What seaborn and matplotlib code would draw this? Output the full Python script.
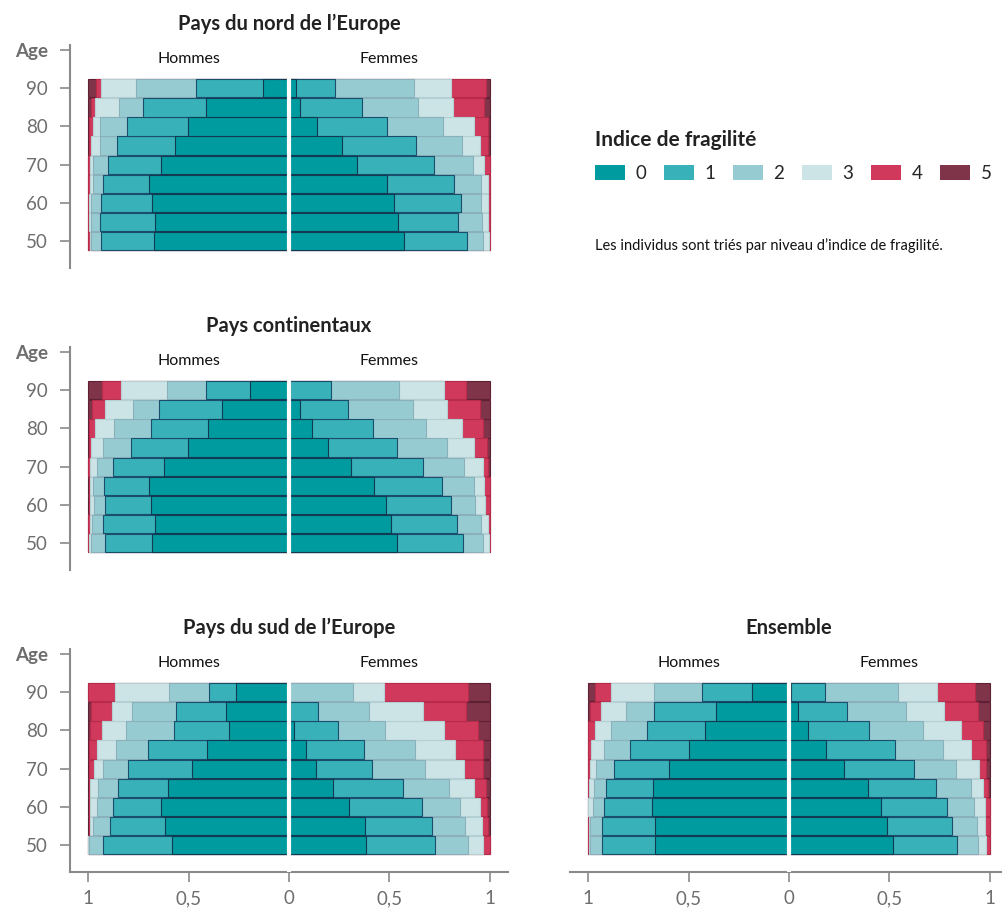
import numpy as np
import pandas as pd
import matplotlib
matplotlib.use("Agg")
import matplotlib.pyplot as plt
from matplotlib.patches import Patch
import seaborn as sns

AGES = [50, 55, 60, 65, 70, 75, 80, 85, 90]
LEVELS = ["0", "1", "2", "3", "4", "5"]

# share (%) of each frailty level 0..5, one row per age group, 50 -> 90
NORD_HOMMES = [
    [67.0, 26.5, 5.0, 0.7, 0.6, 0.2],
    [66.8, 27.2, 4.7, 0.6, 0.5, 0.2],
    [68.2, 25.3, 5.0, 1.0, 0.3, 0.2],
    [69.5, 23.0, 5.0, 1.7, 0.6, 0.2],
    [63.8, 26.2, 7.5, 1.7, 0.6, 0.2],
    [56.6, 28.8, 8.6, 4.7, 0.8, 0.5],
    [50.2, 30.4, 13.4, 3.7, 1.6, 0.7],
    [41.1, 31.7, 11.6, 12.3, 2.0, 1.3],
    [12.9, 33.5, 29.9, 17.1, 2.8, 3.8],
]
NORD_FEMMES = [
    [57.0, 31.4, 8.1, 2.8, 0.6, 0.1],
    [54.1, 29.8, 12.1, 3.0, 0.9, 0.1],
    [52.4, 33.0, 10.3, 3.1, 1.1, 0.1],
    [48.9, 33.2, 13.4, 3.5, 0.9, 0.1],
    [33.7, 38.6, 19.1, 5.9, 2.5, 0.2],
    [26.2, 37.0, 22.9, 9.1, 3.6, 1.2],
    [13.8, 35.1, 27.5, 15.5, 6.9, 1.2],
    [5.3, 31.2, 27.7, 17.4, 15.3, 3.1],
    [3.3, 19.4, 39.7, 18.2, 17.6, 1.8],
]
CONT_HOMMES = [
    [68.3, 23.2, 7.2, 0.6, 0.5, 0.2],
    [66.8, 25.6, 5.6, 1.0, 0.8, 0.2],
    [68.7, 22.8, 5.5, 2.0, 0.7, 0.3],
    [69.7, 22.2, 5.6, 1.5, 0.7, 0.3],
    [62.0, 25.6, 8.1, 3.3, 0.8, 0.2],
    [50.2, 28.4, 13.8, 5.9, 1.4, 0.3],
    [40.3, 28.4, 18.4, 9.6, 3.0, 0.3],
    [33.2, 31.5, 12.9, 14.1, 6.5, 1.8],
    [19.2, 22.3, 19.4, 22.8, 9.5, 6.8],
]
CONT_FEMMES = [
    [53.6, 32.8, 10.1, 2.8, 0.6, 0.1],
    [50.6, 32.8, 12.1, 3.3, 1.0, 0.2],
    [48.1, 32.5, 12.1, 5.1, 2.0, 0.2],
    [42.5, 33.6, 16.1, 5.0, 2.6, 0.2],
    [30.8, 35.9, 20.4, 9.7, 2.2, 1.0],
    [19.6, 34.1, 24.9, 13.6, 6.3, 1.5],
    [11.4, 30.2, 26.6, 18.0, 10.6, 3.2],
    [5.3, 23.9, 32.5, 16.9, 16.6, 4.8],
    [0.3, 20.6, 33.8, 22.6, 10.9, 11.8],
]
SUD_HOMMES = [
    [58.4, 34.0, 7.2, 0.2, 0.1, 0.1],
    [61.7, 27.5, 8.3, 1.7, 0.5, 0.3],
    [63.5, 24.1, 8.1, 3.1, 0.9, 0.3],
    [60.0, 25.1, 9.9, 4.0, 0.7, 0.3],
    [48.3, 31.8, 12.3, 4.9, 2.0, 0.7],
    [40.6, 29.4, 16.2, 9.5, 3.6, 0.7],
    [29.9, 27.3, 23.9, 11.8, 6.3, 0.8],
    [31.3, 24.9, 21.9, 10.1, 10.1, 1.7],
    [26.5, 13.3, 19.9, 26.9, 13.4, 0.0],
]
SUD_FEMMES = [
    [38.1, 34.5, 16.5, 7.7, 3.2, 0.0],
    [37.6, 33.4, 16.6, 8.6, 3.0, 0.8],
    [30.0, 36.2, 19.0, 10.0, 3.3, 1.5],
    [21.9, 34.6, 23.1, 12.6, 6.0, 1.8],
    [13.3, 28.0, 26.4, 19.4, 9.7, 3.2],
    [8.5, 28.8, 25.2, 20.1, 13.9, 3.5],
    [2.3, 22.1, 23.2, 29.7, 16.6, 6.1],
    [0.5, 13.9, 25.2, 26.9, 21.7, 11.8],
    [0.0, 0.0, 31.8, 15.6, 41.5, 11.1],
]
ENS_HOMMES = [
    [66.7, 26.3, 6.0, 0.5, 0.3, 0.2],
    [66.8, 26.2, 5.8, 0.7, 0.3, 0.2],
    [68.0, 24.0, 5.8, 2.0, 0.1, 0.1],
    [67.8, 23.4, 6.1, 2.2, 0.3, 0.2],
    [59.9, 27.0, 9.1, 3.2, 0.6, 0.2],
    [49.9, 29.0, 13.0, 6.4, 1.5, 0.2],
    [41.8, 28.7, 18.2, 8.0, 3.1, 0.2],
    [36.5, 30.5, 13.9, 12.6, 5.7, 0.8],
    [18.6, 24.8, 23.8, 21.4, 7.9, 3.5],
]
ENS_FEMMES = [
    [51.9, 31.8, 10.5, 4.0, 1.6, 0.2],
    [48.6, 32.7, 12.1, 4.4, 2.0, 0.2],
    [45.9, 32.7, 13.4, 5.5, 2.3, 0.2],
    [39.5, 33.5, 17.4, 6.1, 2.5, 1.0],
    [27.4, 35.0, 20.5, 11.5, 3.8, 1.8],
    [18.6, 34.1, 24.1, 13.7, 7.7, 1.8],
    [9.6, 30.4, 26.8, 18.9, 11.1, 3.2],
    [4.3, 24.4, 29.3, 19.1, 16.8, 6.1],
    [1.0, 17.1, 36.1, 19.4, 18.9, 7.5],
]

TITLES = ["Pays du nord de l’Europe", "Pays continentaux",
          "Pays du sud de l’Europe", "Ensemble"]
TABLES = [(NORD_HOMMES, NORD_FEMMES), (CONT_HOMMES, CONT_FEMMES),
          (SUD_HOMMES, SUD_FEMMES), (ENS_HOMMES, ENS_FEMMES)]

COLORS = ["#009b9f", "#38b1b8", "#97cbd2", "#cce4e5", "#d0395b", "#80344a"]
EDGES = ["#123a52", "#1a4e6a", "#8ab0bb", "#b5d0d4", "#b82a4a", "#5e2034"]
GREY = "#8a8a8a"

rows = []
for title, (hom, fem) in zip(TITLES, TABLES):
    for sex, table, sign in [("Hommes", hom, -1), ("Femmes", fem, 1)]:
        cum = np.cumsum(np.array(table) / 100.0, axis=1)
        for i, age in enumerate(AGES):
            for k in range(len(LEVELS)):
                rows.append({"panel": title, "sex": sex, "age": age,
                             "level": k, "cum": sign * cum[i, k]})
df = pd.DataFrame(rows)

sns.set_theme(style="white")
plt.rcParams["font.family"] = ["Lato", "DejaVu Sans"]

fig = plt.figure(figsize=(10.02, 9.11), dpi=100)
W, H = 1002, 911
# pixel boxes: left, top of axes
boxes = [(70, 45), (70, 347), (70, 649), (570, 649)]
aw, ah = 438, 223

for idx, (title, (x0, y0)) in enumerate(zip(TITLES, boxes)):
    ax = fig.add_axes([x0 / W, 1 - (y0 + ah) / H, aw / W, ah / H])
    sub = df[df["panel"] == title]
    for sex in ["Hommes", "Femmes"]:
        for k in reversed(range(len(LEVELS))):
            d = sub[(sub["sex"] == sex) & (sub["level"] == k)]
            sns.barplot(data=d, x="cum", y="age", orient="h", native_scale=True,
                        width=0.96, color=COLORS[k], edgecolor=EDGES[k],
                        linewidth=0.8, saturation=1, errorbar=None, ax=ax)
    ax.axvline(0, color="white", lw=3, zorder=10)
    ax.set_xlim(-1.09, 1.09)
    ax.set_ylim(43, 101.3)
    ax.set_xlabel("")
    ax.set_ylabel("")
    ax.set_title(title, fontsize=14.5, fontweight="bold", color="#222222", pad=11)
    ax.text(-0.5, 97.6, "Hommes", ha="center", va="center", fontsize=11.5, color="#111111")
    ax.text(0.5, 97.6, "Femmes", ha="center", va="center", fontsize=11.5, color="#111111")

    for s in ax.spines.values():
        s.set_visible(False)
    show_y = idx < 3
    show_x = idx >= 2
    if show_y:
        ax.spines["left"].set_visible(True)
        ax.spines["left"].set_color(GREY)
        ax.spines["left"].set_linewidth(1.5)
        ax.set_yticks([50, 60, 70, 80, 90, 100])
        ax.set_yticklabels(["50", "60", "70", "80", "90", "Age"])
        ax.tick_params(axis="y", left=True, length=7, width=1.2, color=GREY,
                       labelcolor="#6e6e6e", labelsize=13.5, pad=9)
        ax.get_yticklabels()[-1].set_fontweight("bold")
    else:
        ax.set_yticks([])
    if show_x:
        ax.spines["bottom"].set_visible(True)
        ax.spines["bottom"].set_color(GREY)
        ax.spines["bottom"].set_linewidth(1.5)
        ax.set_xticks([-1, -0.5, 0, 0.5, 1])
        ax.set_xticklabels(["1", "0,5", "0", "0,5", "1"])
        ax.tick_params(axis="x", bottom=True, length=7, width=1.2, color=GREY,
                       labelcolor="#6e6e6e", labelsize=13.5, pad=6)
    else:
        ax.set_xticks([])

handles = [Patch(facecolor=c, edgecolor="none", label=l) for c, l in zip(COLORS, LEVELS)]
leg = fig.legend(handles=handles, loc="upper left", bbox_to_anchor=(595 / W, 1 - 130 / H),
                 ncol=6, frameon=False, title="Indice de fragilité", alignment="left",
                 title_fontproperties={"weight": "bold", "size": 15},
                 fontsize=13.5, handlelength=1.6, handleheight=0.85,
                 handletextpad=0.55, columnspacing=0.95, labelspacing=0.8,
                 borderpad=0, borderaxespad=0)
leg.get_title().set_color("#222222")
fig.text(595 / W, 1 - 246 / H, "Les individus sont triés par niveau d’indice de fragilité.",
         fontsize=10.5, va="center", ha="left", color="#111111")

fig.savefig("out.png", dpi=100)
